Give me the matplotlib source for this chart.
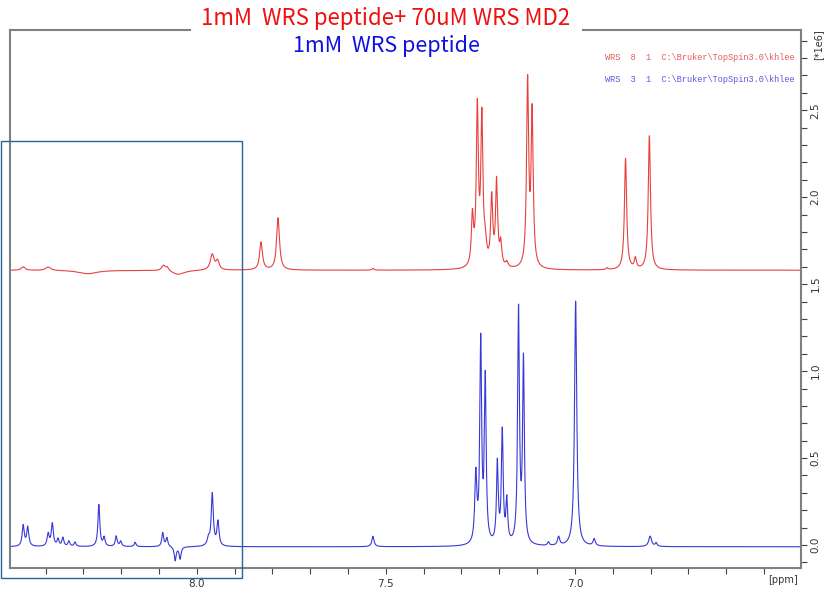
import matplotlib
matplotlib.use('Agg')

import numpy as np
import matplotlib.pyplot as plt
from matplotlib.ticker import MultipleLocator, FixedLocator
from matplotlib.patches import Rectangle

# Peak lists (ppm, height, half width)
red_offset = 1.58
red_ppm = [7.271, 7.258, 7.246, 7.237, 7.220, 7.207, 7.196, 7.180,
           7.125, 7.113, 6.866, 6.840, 6.803, 7.830, 7.785,
           7.959, 7.945, 8.088, 8.078, 8.459, 8.393, 7.534, 6.915,
           8.049, 8.288]
red_height = [0.28, 0.90, 0.84, 0.11, 0.39, 0.49, 0.13, 0.03,
              1.06, 0.88, 0.64, 0.06, 0.77, 0.16, 0.30,
              0.09, 0.05, 0.03, 0.02, 0.02, 0.02, 0.01, 0.01,
              -0.025, -0.02]
red_width = [0.0033, 0.0033, 0.0033, 0.004, 0.0033, 0.0033, 0.0033, 0.004,
             0.0033, 0.0033, 0.0035, 0.0033, 0.0035, 0.0045, 0.0045,
             0.006, 0.005, 0.006, 0.005, 0.006, 0.008, 0.003, 0.003,
             0.02, 0.03]

blue_offset = -0.01
blue_ppm = [8.459, 8.447, 8.393, 8.382, 8.367, 8.354, 8.338, 8.322,
            8.259, 8.245, 8.213, 8.201, 8.163, 8.090, 8.079, 8.057, 8.044,
            7.969, 7.959, 7.944, 7.534,
            7.262, 7.249, 7.237, 7.205, 7.192, 7.180, 7.149, 7.136,
            7.070, 7.043, 6.998, 6.949, 6.801, 6.785]
blue_height = [0.12, 0.11, 0.07, 0.13, 0.04, 0.05, 0.03, 0.025,
               0.24, 0.05, 0.06, 0.03, 0.025, 0.08, 0.05, -0.08, -0.07,
               0.04, 0.30, 0.14, 0.06,
               0.39, 1.15, 0.94, 0.46, 0.64, 0.24, 1.34, 1.05,
               0.02, 0.05, 1.41, 0.04, 0.06, 0.02]
blue_width = [0.0033, 0.0033, 0.0033, 0.0033, 0.003, 0.003, 0.003, 0.003,
              0.003, 0.003, 0.003, 0.003, 0.003, 0.003, 0.003, 0.003, 0.003,
              0.004, 0.0033, 0.0033, 0.0035,
              0.0033, 0.0028, 0.0028, 0.0028, 0.0028, 0.0028, 0.0028, 0.0028,
              0.003, 0.0035, 0.0035, 0.0035, 0.0045, 0.003]

title_red = "1mM  WRS peptide+ 70uM WRS MD2"
title_blue = "1mM  WRS peptide"
legend_red = "WRS  8  1  C:\\Bruker\\TopSpin3.0\\khlee"
legend_blue = "WRS  3  1  C:\\Bruker\\TopSpin3.0\\khlee"


def spectrum(ppm_axis, offset, ppm, height, width):
    y = np.full_like(ppm_axis, offset)
    for p, h, w in zip(ppm, height, width):
        y += h / (1 + ((ppm_axis - p) / w) ** 2)
    return y


x = np.linspace(6.40, 8.50, 8000)
red = spectrum(x, red_offset, red_ppm, red_height, red_width)
blue = spectrum(x, blue_offset, blue_ppm, blue_height, blue_width)

W, H = 839, 595
fig = plt.figure(figsize=(W / 100, H / 100), dpi=100)
ax = fig.add_axes([10 / W, 1 - 568 / H, 791 / W, 538.5 / H])

ax.plot(x, red, color='#e8403c', lw=0.8)
ax.plot(x, blue, color='#3838d8', lw=0.8)

ax.set_xlim(8.494, 6.402)
ax.set_ylim(-0.132, 2.964)

# axis styling, Bruker-like
spine_col = '#808080'
for s in ['left', 'right', 'bottom']:
    ax.spines[s].set_color(spine_col)
    ax.spines[s].set_linewidth(1.5)
ax.spines['top'].set_visible(False)
ax.plot([0, (190 - 10) / 791], [1, 1], transform=ax.transAxes,
        color=spine_col, lw=1.5, clip_on=False)
ax.plot([(583 - 10) / 791, 1], [1, 1], transform=ax.transAxes,
        color=spine_col, lw=1.5, clip_on=False)

ax.xaxis.set_major_locator(FixedLocator([8.0, 7.5, 7.0]))
ax.xaxis.set_minor_locator(MultipleLocator(0.1))
ax.yaxis.tick_right()
ax.yaxis.set_major_locator(FixedLocator([0.0, 0.5, 1.0, 1.5, 2.0, 2.5]))
ax.yaxis.set_minor_locator(MultipleLocator(0.1))
ax.tick_params(which='both', direction='out', length=4, width=0.8,
               color='#444444', labelsize=7.5, labelcolor='#333333')
ax.tick_params(axis='x', pad=4)
ax.tick_params(axis='y', pad=3)
for lab in ax.get_yticklabels():
    lab.set_rotation(90)
    lab.set_va('center')

fig.text(783 / W, 1 - 580 / H, "[ppm]", fontsize=7, color='#333333',
         ha='center', va='center')
fig.text(818 / W, 1 - 45 / H, "[*1e6]", fontsize=7, color='#333333',
         rotation=90, ha='center', va='center')

# titles
fig.text(386 / W, 1 - 19 / H, title_red, fontsize=16, color='#f01010',
         ha='center', va='center', family=['Noto Sans CJK KR', 'DejaVu Sans'])
fig.text(386 / W, 1 - 46 / H, title_blue, fontsize=15.5, color='#1010e0',
         ha='center', va='center', family=['Noto Sans CJK KR', 'DejaVu Sans'])

# file legends
fig.text(795 / W, 1 - 57 / H, legend_red, fontsize=6.2, color='#e85a5a',
         ha='right', va='center', family='Liberation Mono')
fig.text(795 / W, 1 - 80 / H, legend_blue, fontsize=6.2, color='#5a5ae0',
         ha='right', va='center', family='Liberation Mono')

# highlight box
fig.patches.append(Rectangle((1 / W, 1 - 578 / H), 241 / W, 437 / H,
                             transform=fig.transFigure, fill=False,
                             edgecolor='#2a6496', lw=1.0))

fig.savefig("out.png", dpi=100)
